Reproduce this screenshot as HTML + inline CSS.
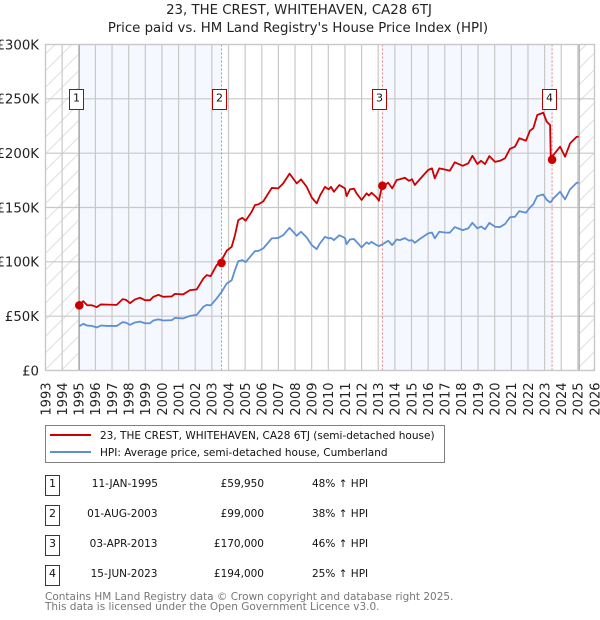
<!DOCTYPE html>
<html>
<head>
<meta charset="utf-8">
<title>23, THE CREST, WHITEHAVEN, CA28 6TJ</title>
<style>
html,body{margin:0;padding:0;background:#fff;width:600px;height:620px;overflow:hidden}
svg{display:block;font-family:"DejaVu Sans","Liberation Sans",sans-serif}
</style>
</head>
<body>
<svg id="chart" xmlns="http://www.w3.org/2000/svg" width="600" height="620" viewBox="0 0 600 620">
<defs>
<pattern id="hatch" patternUnits="userSpaceOnUse" width="16.6" height="16.6">
<path d="M-2 18.6 L18.6 -2 M-2 2 L2 -2 M14.6 18.6 L18.6 14.6" stroke="#dedede" stroke-width="1" fill="none"/>
</pattern>
</defs>
<text x="299" y="14" text-anchor="middle" font-size="13.3" fill="#222">23, THE CREST, WHITEHAVEN, CA28 6TJ</text>
<text x="298" y="32" text-anchor="middle" font-size="13.3" fill="#222">Price paid vs. HM Land Registry's House Price Index (HPI)</text>
<g id="plot"></g>

<g>
<rect x="45.5" y="425.5" width="399" height="37" fill="#fff" stroke="#808080" stroke-width="1"/>
<line x1="50" x2="91" y1="435" y2="435" stroke="#cc0000" stroke-width="2"/>
<line x1="50" x2="91" y1="452" y2="452" stroke="#5f8fd3" stroke-width="2"/>
<text x="100" y="439" font-size="10.5" fill="#111">23, THE CREST, WHITEHAVEN, CA28 6TJ (semi-detached house)</text>
<text x="100" y="456" font-size="10.5" fill="#111">HPI: Average price, semi-detached house, Cumberland</text>
</g>

<g font-size="10.5" fill="#111">
<g>
<rect x="45.5" y="475.5" width="14" height="20" fill="#fff" stroke="#b80000"/>
<text x="52.5" y="487" text-anchor="middle" font-size="11">1</text>
<text x="158" y="487" text-anchor="end">11-JAN-1995</text>
<text x="264" y="487" text-anchor="end">£59,950</text>
<text x="312" y="487">48% ↑ HPI</text>
</g>
<g>
<rect x="45.5" y="505.5" width="14" height="20" fill="#fff" stroke="#b80000"/>
<text x="52.5" y="517" text-anchor="middle" font-size="11">2</text>
<text x="157.5" y="517" text-anchor="end">01-AUG-2003</text>
<text x="264" y="517" text-anchor="end">£99,000</text>
<text x="312" y="517">38% ↑ HPI</text>
</g>
<g>
<rect x="45.5" y="535.5" width="14" height="20" fill="#fff" stroke="#b80000"/>
<text x="52.5" y="547" text-anchor="middle" font-size="11">3</text>
<text x="157.5" y="547" text-anchor="end">03-APR-2013</text>
<text x="264" y="547" text-anchor="end">£170,000</text>
<text x="312" y="547">46% ↑ HPI</text>
</g>
<g>
<rect x="45.5" y="565.5" width="14" height="20" fill="#fff" stroke="#b80000"/>
<text x="52.5" y="577" text-anchor="middle" font-size="11">4</text>
<text x="157.5" y="577" text-anchor="end">15-JUN-2023</text>
<text x="264" y="577" text-anchor="end">£194,000</text>
<text x="312" y="577">25% ↑ HPI</text>
</g>
</g>

<text x="45" y="600" font-size="10.5" fill="#777">Contains HM Land Registry data © Crown copyright and database right 2025.</text>
<text x="45" y="610" font-size="10.5" fill="#777">This data is licensed under the Open Government Licence v3.0.</text>
</svg>

<script>
var dates = [
1995.03,1995.27,1995.5,1995.8,1996.08,1996.33,1996.7,1997.28,1997.64,1997.84,
1998.08,1998.38,1998.68,1998.98,1999.28,1999.48,1999.78,2000.08,2000.59,2000.78,
2001.27,2001.69,2002.09,2002.49,2002.69,2002.93,2003.29,2003.59,2003.89,2004.19,
2004.39,2004.59,2004.83,2005.03,2005.39,2005.59,2005.79,2006.09,2006.6,2006.99,
2007.29,2007.67,2008.1,2008.36,2008.7,2009.0,2009.3,2009.5,2009.8,2010.02,
2010.16,2010.34,2010.66,2011.0,2011.1,2011.3,2011.54,2011.7,2012.0,2012.3,
2012.44,2012.6,2012.9,2013.04,2013.24,2013.4,2013.6,2013.84,2014.11,2014.3,
2014.6,2014.85,2015.03,2015.2,2015.5,2016.0,2016.23,2016.4,2016.67,2017.0,
2017.3,2017.6,2018.08,2018.41,2018.66,2018.96,2019.18,2019.42,2019.68,2020.02,
2020.32,2020.62,2020.92,2021.22,2021.48,2021.88,2022.12,2022.32,2022.56,2022.92,
2023.13,2023.33,2023.37,2023.53,2023.93,2024.23,2024.53,2024.93,2025.05
];
var hpiValues = [
40.8,42.9,41.4,41,39.6,41.4,41,41,44.5,44,
42,44.2,45,43.5,43.5,46,47,46,46.3,48.4,
47.9,50.3,51.2,58.6,60.4,59.9,66.3,72.4,80,83,
92.4,100.7,101.6,99.7,106.2,109.9,110,112.4,121.6,122,
124.6,131.3,124,127.7,122.5,115.4,111.7,117,123,121.6,
122,120,124.4,122,116.3,120.6,121,118.4,113.3,118,
116.5,118.4,115.4,114.5,116,117.5,119.4,115.4,120.6,120,
121.8,119.5,120,117.5,121,126.2,127,121.6,127.7,127,
126.8,132,129.2,130.8,135.9,130.8,132.5,130,135.9,132.3,
132,134.8,141,141.5,146.7,145.2,150,153,160.5,162,
157,154.7,155,158.4,164.5,157.5,166.7,172.8,172.8
];
var paidValues = [
60,63.8,60.1,60,58.3,60.8,60.6,60.4,65.7,65,
62,65.4,67,64.7,64.7,67.8,69.6,67.8,68.2,70.5,
70,74,74.6,84.7,87.8,86.9,97,101.6,110.2,113.8,
124.6,138.4,140.5,137.8,146,152.2,152.9,155.6,168,167.6,
172.2,181.2,172.2,175.9,169,159.3,153.8,161,169,166.7,
169,164.5,170.7,167.6,160.5,166.7,167.3,163,156.9,163,
161,163.6,159.3,156.2,170.7,170.7,172.8,167.6,175.3,176,
177.4,174.5,176,170.7,176,184.5,186,176.8,186,185,
183.8,191.6,188.4,190.6,197.6,190,193,190,197.3,192,
193,195.3,204,206,213.7,211.5,220.7,222.9,235.1,237.2,
228.9,225.9,196.7,198.3,206,196.7,209,215.1,215.1
];
var saleDates = [1995.03,2003.58,2013.25,2023.45];
var salePrices = [59.95,99,170,194];
var saleLabels = ["1","2","3","4"];
var yearTicks = [1993,1994,1995,1996,1997,1998,1999,2000,2001,2002,2003,2004,2005,2006,2007,2008,2009,2010,2011,2012,2013,2014,2015,2016,2017,2018,2019,2020,2021,2022,2023,2024,2025,2026];
var valueTicks = [0,50,100,150,200,250,300];
var valueTickLabels = ["£0","£50K","£100K","£150K","£200K","£250K","£300K"];
var dataEnd = 2025.08;

var NS = "http://www.w3.org/2000/svg";
var plot = document.getElementById("plot");
var L = 45.5, R = 594.5, T = 44.5, B = 370.5;
function xScale(year){ return L + (year - 1993) * (R - L) / 33; }
function yScale(v){ return B - v * (B - T) / 300; }
function mk(tag, attrs){
  var el = document.createElementNS(NS, tag);
  for (var k in attrs) el.setAttribute(k, attrs[k]);
  plot.appendChild(el);
  return el;
}
function pointsFor(values){
  var pts = [];
  for (var i = 0; i < dates.length; i++) pts.push(xScale(dates[i]).toFixed(2) + "," + yScale(values[i]).toFixed(2));
  return pts.join(" ");
}

var el;
for (var b = 0; b < saleDates.length; b += 2) {
  var bandEnd = saleDates[b + 1];
  el = mk("rect", {x: xScale(saleDates[b]), y: T, width: xScale(bandEnd) - xScale(saleDates[b]), height: B - T, fill: "#f5f8ff"});
  
  
}
el = mk("rect", {x: L, y: T, width: xScale(saleDates[0]) - L, height: B - T, fill: "url(#hatch)"});


el = mk("rect", {x: xScale(dataEnd), y: T, width: R - xScale(dataEnd), height: B - T, fill: "url(#hatch)"});



yearTicks.forEach(function(year){
  var x = xScale(year);
  var g = mk("line", {x1: x, x2: x, y1: T, y2: B, stroke: "#c8c8c8", "stroke-width": 1.2});
  
  
  var t = mk("text", {transform: "translate(" + (x + 4.8) + ",382.5) rotate(-90)", "text-anchor": "end", "font-size": 13, fill: "#222"});
  
  
  t.textContent = year;
});
valueTicks.forEach(function(v, i){
  var y = yScale(v);
  var g = mk("line", {x1: L, x2: R, y1: y, y2: y, stroke: "#c8c8c8", "stroke-width": 1.2});
  
  
  var t = mk("text", {x: 39, y: y + 4.8, "text-anchor": "end", "font-size": 13.3, fill: "#222"});
  
  
  t.textContent = valueTickLabels[i];
});

el = mk("line", {x1: xScale(saleDates[0]), x2: xScale(saleDates[0]), y1: T, y2: B, stroke: "#999", "stroke-width": 1});


el = mk("line", {x1: xScale(dataEnd), x2: xScale(dataEnd), y1: T, y2: B, stroke: "#999", "stroke-width": 1});



saleDates.forEach(function(d, i){
  if (i === 0) return;
  var x = xScale(d);
  var s = mk("line", {x1: x, x2: x, y1: T, y2: B, stroke: "#f07a7a", "stroke-width": 1, "stroke-dasharray": "2 2"});
  
  
});

el = mk("polyline", {points: pointsFor(hpiValues), fill: "none", stroke: "#5f8fd3", "stroke-width": 1.8, "stroke-linejoin": "round"});


el = mk("polyline", {points: pointsFor(paidValues), fill: "none", stroke: "#cc0000", "stroke-width": 1.8, "stroke-linejoin": "round"});



saleDates.forEach(function(d, i){
  var c = mk("circle", {cx: xScale(d), cy: yScale(salePrices[i]), r: 4.3, fill: "#cc0000"});
  
  
  var x = xScale(d) - 3;
  var r = mk("rect", {x: Math.round(x - 7) + 0.5, y: 89.5, width: 14, height: 20, fill: "#fff", stroke: "#b80000", "stroke-width": 1});
  
  
  var t = mk("text", {x: Math.round(x - 7) + 7.5, y: 101.5, "text-anchor": "middle", "font-size": 11, fill: "#111"});
  
  
  t.textContent = saleLabels[i];
});

el = mk("rect", {x: L, y: T, width: R - L, height: B - T, fill: "none", stroke: "#c8c8c8", "stroke-width": 1.2});


</script>
</body>
</html>
